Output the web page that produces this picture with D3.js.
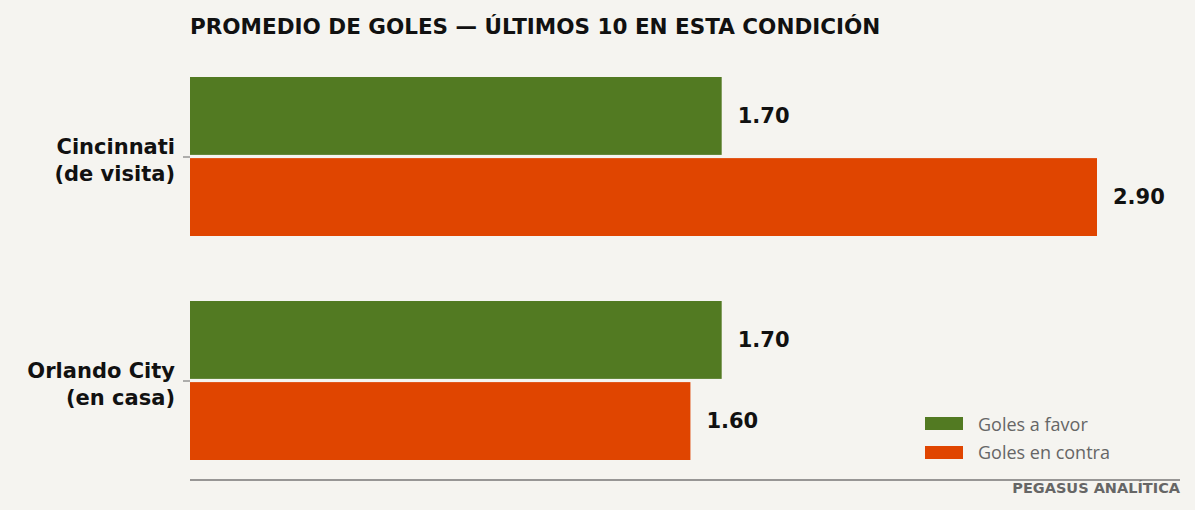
<!DOCTYPE html>
<html><head><meta charset="utf-8">
<script src="https://cdn.jsdelivr.net/npm/d3@7"></script>
<style>body{margin:0;background:#f5f4f0}svg{display:block;font-family:"DejaVu Sans",sans-serif}</style>
</head><body><svg id="c" width="1195" height="510"></svg>
<script>
const teams = ["Cincinnati\n(de visita)", "Orlando City\n(en casa)"];
const seriesNames = ["Goles a favor", "Goles en contra"];
const favor = [1.70, 1.70];
const contra = [2.90, 1.60];
const colors = ["#527a22", "#e04500"];

const svg = d3.select("#c");
svg.append("rect").attr("width",1195).attr("height",510).attr("fill","#f5f4f0");
const x = d3.scaleLinear().domain([0,2.9]).range([190,1097]);
const y = d3.scaleBand().domain(teams).range([45,493]).paddingInner(0.0).paddingOuter(0);
const inner = d3.scaleBand().domain(seriesNames).range([0,159]).paddingInner(0.04);
const vals = [favor, contra];

svg.append("text").attr("x",190).attr("y",34).attr("font-size",21.5).attr("font-weight","bold")
  .attr("fill","#111").text("PROMEDIO DE GOLES — ÚLTIMOS 10 EN ESTA CONDICIÓN");

teams.forEach((t,i)=>{
  const y0 = 77 + i*224;
  seriesNames.forEach((s,j)=>{
    const v = vals[j][i];
    svg.append("rect").attr("x",x(0)).attr("y",y0+inner(s)).attr("width",x(v)-x(0))
      .attr("height",inner.bandwidth()).attr("fill",colors[j]);
    svg.append("text").attr("x",x(v)+16).attr("y",y0+inner(s)+inner.bandwidth()/2+7)
      .attr("font-size",21).attr("font-weight","bold").attr("fill","#111").text(v.toFixed(2));
  });
  const cy = y0+80;
  svg.append("line").attr("x1",183).attr("x2",190).attr("y1",cy).attr("y2",cy).attr("stroke","#666");
  const lines = t.split("\n");
  lines.forEach((l,k)=>{
    svg.append("text").attr("x",175).attr("y",cy-3+k*27).attr("text-anchor","end")
      .attr("font-size",21).attr("font-weight","bold").attr("fill","#111").text(l);
  });
});

svg.append("line").attr("x1",190).attr("x2",1180).attr("y1",480).attr("y2",480).attr("stroke","#777").attr("stroke-width",1.5);

seriesNames.forEach((s,j)=>{
  svg.append("rect").attr("x",925).attr("y",417+j*29).attr("width",38).attr("height",13).attr("fill",colors[j]);
  svg.append("text").attr("x",978).attr("y",431+j*28).attr("font-size",18).attr("fill","#666")
    .attr("font-family","'Open Sans',sans-serif").text(s);
});
svg.append("text").attr("x",1180).attr("y",493).attr("text-anchor","end").attr("font-size",14.5)
  .attr("font-weight","bold").attr("fill","#666").text("PEGASUS ANALÍTICA");
</script></body></html>
